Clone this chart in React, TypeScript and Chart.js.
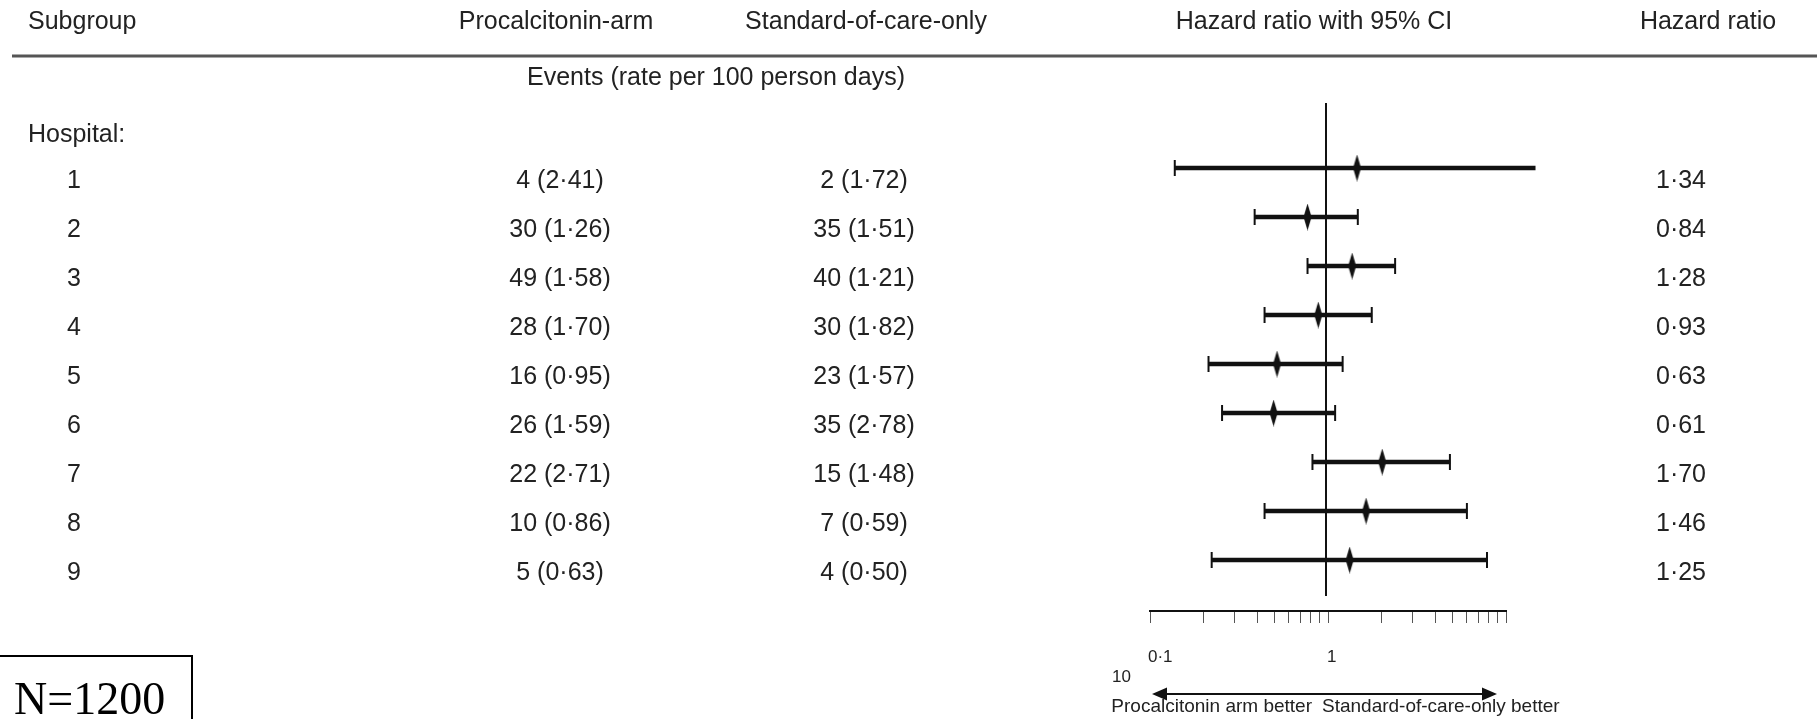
import React, { useEffect, useRef } from 'react';
import { Chart, registerables } from 'chart.js';

Chart.register(...registerables);

// ---------- data ----------
const ROWS = [1, 2, 3, 4, 5, 6, 7, 8, 9];
const SUBGROUPS = ['1', '2', '3', '4', '5', '6', '7', '8', '9'];
const PCT_EVENTS = ['4 (2·41)', '30 (1·26)', '49 (1·58)', '28 (1·70)', '16 (0·95)', '26 (1·59)', '22 (2·71)', '10 (0·86)', '5 (0·63)'];
const SOC_EVENTS = ['2 (1·72)', '35 (1·51)', '40 (1·21)', '30 (1·82)', '23 (1·57)', '35 (2·78)', '15 (1·48)', '7 (0·59)', '4 (0·50)'];
const HR = [1.34, 0.84, 1.28, 0.93, 0.63, 0.61, 1.70, 1.46, 1.25];
const CI_LOW = [0.24, 0.51, 0.84, 0.56, 0.33, 0.375, 0.88, 0.56, 0.34];
const CI_HIGH = [7.2, 1.35, 1.92, 1.54, 1.17, 1.09, 3.22, 3.78, 4.57];
const AXIS_TICKS = [0.1, 0.2, 0.3, 0.4, 0.5, 0.6, 0.7, 0.8, 0.9, 1, 2, 3, 4, 5, 6, 7, 8, 9, 10];
const AXIS_LABELS = ['0·1', '1', '10'];
const AXIS_LABEL_VALUES = [0.1, 1, 10];
const REF_VALUE = 1;

const HEADERS = ['Subgroup', 'Procalcitonin-arm', 'Standard-of-care-only', 'Hazard ratio with 95% CI', 'Hazard ratio'];
const SUBHEADER = 'Events (rate per 100 person days)';
const GROUP_LABEL = 'Hospital:';
const FOOT_LEFT = 'Procalcitonin arm better';
const FOOT_RIGHT = 'Standard-of-care-only better';
const N_LABEL = 'N=1200';

// ---------- layout (pixels) ----------
const W = 1817;
const H = 719;
const AREA_LEFT = 1150;
const AREA_RIGHT = 1506;
const AREA_TOP = 103;
const AREA_BOTTOM = 611;
const TICK_LEN = 12;
const ONE_PX = 1326;
const PX_PER_DECADE = 244;
const ROW1_PX = 168;
const ROW_STEP = 49;

const X_MIN = Math.pow(10, -(ONE_PX - AREA_LEFT) / PX_PER_DECADE);
const X_MAX = Math.pow(10, (AREA_RIGHT - ONE_PX) / PX_PER_DECADE);
const Y_MIN = 1 - (ROW1_PX - AREA_TOP) / ROW_STEP;
const Y_MAX = Y_MIN + (AREA_BOTTOM - AREA_TOP) / ROW_STEP;

const FONT = '"Liberation Sans", Arial, Helvetica, sans-serif';
const TEXT = '#222';

const fmt = (v: number) => v.toFixed(2).replace('.', '·');

export default function App() {
  const ref = useRef<HTMLCanvasElement>(null);

  useEffect(() => {
    const canvas = ref.current;
    if (!canvas) return;

    const diamond = document.createElement('canvas');
    diamond.width = 9;
    diamond.height = 27;
    const dctx = diamond.getContext('2d')!;
    dctx.fillStyle = '#111';
    dctx.beginPath();
    dctx.moveTo(4.5, 0);
    dctx.lineTo(8.5, 13.5);
    dctx.lineTo(4.5, 27);
    dctx.lineTo(0.5, 13.5);
    dctx.closePath();
    dctx.fill();

    const tablePlugin = {
      id: 'forestTable',
      beforeDatasetsDraw(chart: any) {
        const { ctx, chartArea, scales } = chart;
        const x = scales.x.getPixelForValue(REF_VALUE);
        ctx.save();
        ctx.strokeStyle = '#111';
        ctx.lineWidth = 2;
        ctx.beginPath();
        ctx.moveTo(x, chartArea.top);
        ctx.lineTo(x, chartArea.bottom - 15);
        ctx.stroke();
        ctx.restore();
      },
      afterDraw(chart: any) {
        const { ctx, scales } = chart;
        const ys = scales.y;
        const ax = scales.x2;
        ctx.save();
        ctx.fillStyle = TEXT;
        ctx.textBaseline = 'middle';
        ctx.font = `25px ${FONT}`;

        // header
        const hy = 22;
        ctx.textAlign = 'left';
        ctx.fillText(HEADERS[0], 28, hy);
        ctx.textAlign = 'center';
        ctx.fillText(HEADERS[1], 556, hy);
        ctx.fillText(HEADERS[2], 866, hy);
        ctx.fillText(HEADERS[3], 1314, hy);
        ctx.fillText(HEADERS[4], 1708, hy);

        // rule
        ctx.strokeStyle = '#555';
        ctx.lineWidth = 3;
        ctx.beginPath();
        ctx.moveTo(12, 56);
        ctx.lineTo(W, 56);
        ctx.stroke();

        ctx.fillText(SUBHEADER, 716, 78);
        ctx.textAlign = 'left';
        ctx.fillText(GROUP_LABEL, 28, 135);

        ROWS.forEach((r, i) => {
          const y = ys.getPixelForValue(r) + 13;
          ctx.textAlign = 'center';
          ctx.fillText(SUBGROUPS[i], 74, y);
          ctx.fillText(PCT_EVENTS[i], 560, y);
          ctx.fillText(SOC_EVENTS[i], 864, y);
          ctx.fillText(fmt(HR[i]), 1681, y);
        });

        // axis labels
        ctx.font = `17px ${FONT}`;
        ctx.textAlign = 'left';
        const p01 = ax.getPixelForValue(AXIS_LABEL_VALUES[0]);
        const p1 = ax.getPixelForValue(AXIS_LABEL_VALUES[1]);
        const p10 = ax.getPixelForValue(AXIS_LABEL_VALUES[2]);
        ctx.fillText(AXIS_LABELS[0], p01 - 2, 657);
        ctx.fillText(AXIS_LABELS[1], p1 - 1, 657);
        // last label wrapped onto a second line at the left
        ctx.fillText(AXIS_LABELS[2], p01 - 38, 677);

        // arrows
        const ay = 694;
        ctx.strokeStyle = '#111';
        ctx.fillStyle = '#111';
        ctx.lineWidth = 2;
        const leftTip = p01 + 2;
        const rightTip = p10 - 9;
        ctx.beginPath();
        ctx.moveTo(p1, ay);
        ctx.lineTo(leftTip + 12, ay);
        ctx.moveTo(p1, ay);
        ctx.lineTo(rightTip - 12, ay);
        ctx.stroke();
        ctx.beginPath();
        ctx.moveTo(leftTip, ay);
        ctx.lineTo(leftTip + 15, ay - 6.5);
        ctx.lineTo(leftTip + 15, ay + 6.5);
        ctx.closePath();
        ctx.fill();
        ctx.beginPath();
        ctx.moveTo(rightTip, ay);
        ctx.lineTo(rightTip - 15, ay - 6.5);
        ctx.lineTo(rightTip - 15, ay + 6.5);
        ctx.closePath();
        ctx.fill();

        ctx.fillStyle = TEXT;
        ctx.font = `19px ${FONT}`;
        ctx.textAlign = 'right';
        ctx.fillText(FOOT_LEFT, p1 - 16, 707);
        ctx.textAlign = 'left';
        ctx.fillText(FOOT_RIGHT, p1 - 6, 707);

        // N box
        ctx.strokeStyle = '#000';
        ctx.lineWidth = 2;
        ctx.strokeRect(-2, 656, 194, 100);
        ctx.fillStyle = '#000';
        ctx.font = '46px "Liberation Serif", "Times New Roman", serif';
        ctx.textBaseline = 'alphabetic';
        ctx.fillText(N_LABEL, 14, 714);
        ctx.restore();
      },
    };

    const chart = new Chart(canvas, {
      type: 'bar',
      data: {
        datasets: [
          {
            type: 'bar',
            indexAxis: 'y',
            data: ROWS.map((r, i) => ({ y: r, x: [CI_LOW[i], CI_HIGH[i]] })),
            backgroundColor: '#111',
            borderWidth: 0,
            barThickness: 4,
            xAxisID: 'x',
            yAxisID: 'y',
            clip: false,
          } as any,
          {
            type: 'scatter',
            data: [
              ...ROWS.map((r, i) => ({ x: CI_LOW[i], y: r })),
              ...ROWS.map((r, i) => ({ x: CI_HIGH[i], y: r })),
            ],
            pointStyle: 'line',
            rotation: 90,
            radius: 8,
            borderWidth: 2,
            borderColor: '#111',
            xAxisID: 'x',
            yAxisID: 'y',
            clip: false,
          } as any,
          {
            type: 'scatter',
            data: ROWS.map((r, i) => ({ x: HR[i], y: r })),
            pointStyle: diamond,
            xAxisID: 'x',
            yAxisID: 'y',
            clip: false,
          } as any,
        ],
      },
      options: {
        animation: false,
        responsive: false,
        indexAxis: 'y',
        events: [],
        layout: {
          padding: {
            left: AREA_LEFT,
            right: W - AREA_RIGHT,
            top: AREA_TOP,
            bottom: H - AREA_BOTTOM - TICK_LEN,
          },
        },
        plugins: { legend: { display: false }, tooltip: { enabled: false } },
        scales: {
          x: { type: 'logarithmic', display: false, offset: false, min: X_MIN, max: X_MAX },
          y: { type: 'linear', display: false, offset: false, reverse: true, min: Y_MIN, max: Y_MAX },
          x2: {
            type: 'logarithmic',
            position: 'bottom',
            display: true,
            offset: false,
            min: AXIS_TICKS[0],
            max: AXIS_TICKS[AXIS_TICKS.length - 1],
            afterBuildTicks: (s: any) => {
              s.ticks = AXIS_TICKS.map((v) => ({ value: v }));
            },
            ticks: { display: false },
            grid: { drawOnChartArea: false, drawTicks: true, tickLength: TICK_LEN, color: '#555', lineWidth: 1 },
            border: { display: true, color: '#111', width: 2 },
          },
        },
      } as any,
      plugins: [tablePlugin],
    });

    return () => chart.destroy();
  }, []);

  return (
    <div style={{ position: 'fixed', left: 0, top: 0, width: W, height: H, overflow: 'hidden', background: '#fff' }}>
      <canvas ref={ref} width={W} height={H} style={{ display: 'block', width: W, height: H }} />
    </div>
  );
}
